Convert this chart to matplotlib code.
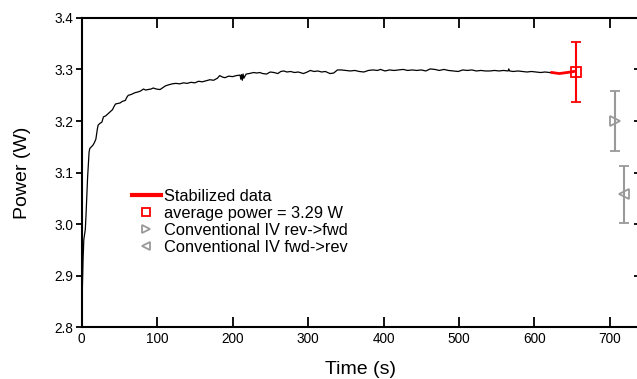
import matplotlib
matplotlib.use("Agg")
import matplotlib.pyplot as plt
from matplotlib.lines import Line2D

plt.rcParams['font.family'] = ['Liberation Sans', 'DejaVu Sans']

# measured power trace (s, W)
time_s = [
    0, 1, 2, 3, 4, 5, 6, 8, 10, 11,
    13, 15, 17, 19, 21, 22, 24, 27, 29, 32,
    35, 38, 41, 43, 45, 48, 51, 54, 58, 60,
    62, 65, 68, 71, 74, 78, 82, 85, 88, 92,
    95, 99, 104, 108, 111, 115, 120, 125, 130, 135,
    140, 145, 150, 155, 160, 165, 170, 175, 180, 183,
    187, 190, 195, 200, 205, 210, 211, 212, 213, 214,
    215, 218, 222, 228, 232, 236, 240, 245, 250, 255,
    260, 264, 268, 272, 277, 282, 287, 294, 299, 303,
    308, 313, 318, 323, 329, 334, 339, 344, 350, 356,
    362, 368, 374, 380, 386, 392, 396, 402, 408, 414,
    420, 426, 432, 438, 444, 450, 456, 462, 468, 474,
    480, 486, 492, 499, 505, 511, 517, 523, 529, 535,
    541, 547, 553, 559, 565, 566, 567, 572, 578, 584,
    590, 596, 602, 608, 614, 620, 625,
]
power_w = [
    2.850, 2.870, 2.930, 2.970, 2.980, 2.990, 3.020, 3.090, 3.140, 3.147,
    3.150, 3.153, 3.158, 3.165, 3.185, 3.192, 3.195, 3.198, 3.208, 3.210,
    3.214, 3.218, 3.222, 3.228, 3.233, 3.234, 3.235, 3.238, 3.240, 3.246,
    3.250, 3.251, 3.253, 3.255, 3.256, 3.258, 3.262, 3.260, 3.261, 3.262,
    3.264, 3.262, 3.261, 3.265, 3.268, 3.270, 3.272, 3.273, 3.272, 3.274,
    3.273, 3.275, 3.274, 3.277, 3.276, 3.278, 3.280, 3.279, 3.283, 3.288,
    3.285, 3.284, 3.287, 3.286, 3.288, 3.289, 3.281, 3.290, 3.279, 3.291,
    3.283, 3.291, 3.292, 3.294, 3.293, 3.294, 3.292, 3.291, 3.295, 3.294,
    3.292, 3.296, 3.297, 3.295, 3.296, 3.294, 3.295, 3.292, 3.295, 3.298,
    3.296, 3.297, 3.295, 3.296, 3.292, 3.293, 3.299, 3.299, 3.298, 3.297,
    3.298, 3.296, 3.295, 3.298, 3.299, 3.298, 3.300, 3.297, 3.299, 3.298,
    3.299, 3.300, 3.298, 3.299, 3.298, 3.299, 3.297, 3.301, 3.300, 3.298,
    3.300, 3.298, 3.297, 3.296, 3.299, 3.298, 3.299, 3.297, 3.298, 3.297,
    3.297, 3.298, 3.297, 3.298, 3.297, 3.301, 3.297, 3.296, 3.297, 3.296,
    3.295, 3.296, 3.295, 3.294, 3.295, 3.294, 3.294,
]

# stabilized part
stab_time = [623, 628, 633, 638, 643, 648, 652]
stab_power = [3.294, 3.293, 3.292, 3.293, 3.294, 3.295, 3.296]

# average and conventional IV values with errors
avg_t, avg_p, avg_err = 655, 3.295, 0.059
rev_fwd_t, rev_fwd_p, rev_fwd_err = 706, 3.200, 0.058
fwd_rev_t, fwd_rev_p, fwd_rev_err = 719, 3.058, 0.055

grey = '#999999'

fig = plt.figure(figsize=(6.37, 3.79), dpi=100)
ax = fig.add_axes([0.128, 0.136, 0.877, 0.817])

ax.plot(time_s, power_w, color='black', lw=0.9)
ax.plot(stab_time, stab_power, color='red', lw=2.0)
ax.errorbar(avg_t, avg_p, yerr=avg_err, fmt='s', ms=7, mfc='none', mec='red',
            mew=1.3, ecolor='red', elinewidth=1.5, capsize=3.5, capthick=1.5)
ax.errorbar(rev_fwd_t, rev_fwd_p, yerr=rev_fwd_err, fmt='>', ms=7, mfc='none',
            mec=grey, mew=1.3, ecolor=grey, elinewidth=1.5, capsize=3.5,
            capthick=1.5)
ax.errorbar(fwd_rev_t, fwd_rev_p, yerr=fwd_rev_err, fmt='<', ms=7, mfc='none',
            mec=grey, mew=1.3, ecolor=grey, elinewidth=1.5, capsize=3.5,
            capthick=1.5)

ax.set_xlim(0, 740)
ax.set_ylim(2.8, 3.4)
ax.set_xticks([0, 100, 200, 300, 400, 500, 600, 700])
ax.set_yticks([2.8, 2.9, 3.0, 3.1, 3.2, 3.3, 3.4])
ax.set_yticklabels(['2.8', '2.9', '3.0', '3.1', '3.2', '3.3', '3.4'])

for s in ax.spines.values():
    s.set_linewidth(1.5)
ax.spines['right'].set_visible(False)
ax.tick_params(axis='x', direction='in', length=7, width=1.3, labelsize=9.8,
               top=True, pad=3)
ax.tick_params(axis='y', direction='out', length=4, width=1.3, labelsize=9.8,
               pad=2)
right = ax.secondary_yaxis('right')
right.set_yticks([2.8, 2.9, 3.0, 3.1, 3.2, 3.3, 3.4])
right.tick_params(direction='in', length=4, width=1.3, labelright=False)
right.spines['right'].set_visible(False)

ax.set_xlabel('Time (s)', fontsize=14, labelpad=11)
ax.set_ylabel('Power (W)', fontsize=14, labelpad=17)

handles = [
    Line2D([], [], color='red', lw=3),
    Line2D([], [], ls='none', marker='s', ms=5.5, mfc='none', mec='red', mew=1.3),
    Line2D([], [], ls='none', marker='>', ms=6, mfc='none', mec=grey, mew=1.3),
    Line2D([], [], ls='none', marker='<', ms=6, mfc='none', mec=grey, mew=1.3),
]
labels = ['Stabilized data', 'average power = 3.29 W',
          'Conventional IV rev->fwd', 'Conventional IV fwd->rev']
ax.legend(handles, labels, loc='upper left', bbox_to_anchor=(0.078, 0.468),
          frameon=False, fontsize=11.8, handlelength=1.8,
          handletextpad=0.2, labelspacing=0.12, borderaxespad=0)

fig.savefig('out.png', dpi=100)
